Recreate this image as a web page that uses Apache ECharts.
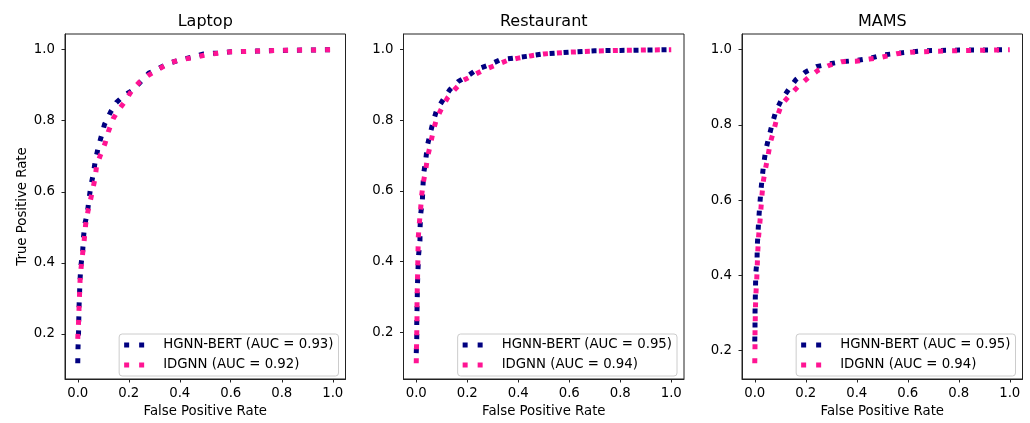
<!DOCTYPE html>
<html>
<head>
<meta charset="utf-8">
<script src="https://cdn.jsdelivr.net/npm/echarts@6/dist/echarts.min.js"></script>
<style>html,body{margin:0;padding:0;background:#fff}#c{width:1030px;height:423px}</style>
</head>
<body>
<div id="c"></div>
<script>
// ---- data ----
const panelTitles = ['Laptop', 'Restaurant', 'MAMS'];
const xTickValues = [0, 0.2, 0.4, 0.6, 0.8, 1.0];
const yTickValues = [0.2, 0.4, 0.6, 0.8, 1.0];
const hgnnNames = ['HGNN-BERT (AUC = 0.93)', 'HGNN-BERT (AUC = 0.95)', 'HGNN-BERT (AUC = 0.95)'];
const idgnnNames = ['IDGNN (AUC = 0.92)', 'IDGNN (AUC = 0.94)', 'IDGNN (AUC = 0.94)'];

const laptopHgnnFpr = [0, 0.001, 0.003, 0.004, 0.005, 0.007, 0.009, 0.012, 0.019, 0.022, 0.027, 0.038, 0.044, 0.051, 0.061, 0.069, 0.081, 0.093, 0.105, 0.129, 0.151, 0.181, 0.214, 0.246, 0.279, 0.318, 0.357, 0.402, 0.448, 0.493, 0.55, 0.6, 0.7, 0.8, 0.9, 1.0];
const laptopHgnnTpr = [0.117, 0.16, 0.2, 0.237, 0.275, 0.314, 0.352, 0.39, 0.428, 0.467, 0.506, 0.542, 0.578, 0.615, 0.65, 0.688, 0.727, 0.758, 0.79, 0.825, 0.851, 0.871, 0.885, 0.909, 0.934, 0.948, 0.962, 0.971, 0.979, 0.988, 0.991, 0.994, 0.996, 0.998, 0.999, 1.0];
const laptopIdgnnFpr = [0, 0.003, 0.005, 0.007, 0.009, 0.013, 0.018, 0.025, 0.031, 0.04, 0.048, 0.057, 0.068, 0.074, 0.09, 0.107, 0.12, 0.139, 0.161, 0.188, 0.21, 0.242, 0.275, 0.314, 0.353, 0.396, 0.448, 0.5, 0.55, 0.6, 0.7, 0.8, 0.9, 1.0];
const laptopIdgnnTpr = [0.186, 0.23, 0.27, 0.31, 0.349, 0.385, 0.419, 0.461, 0.508, 0.545, 0.57, 0.601, 0.638, 0.674, 0.705, 0.736, 0.769, 0.806, 0.831, 0.857, 0.883, 0.909, 0.927, 0.944, 0.96, 0.971, 0.977, 0.985, 0.99, 0.994, 0.996, 0.998, 0.999, 1.0];

const restHgnnFpr = [0, 0.002, 0.002, 0.003, 0.004, 0.005, 0.007, 0.009, 0.0145, 0.015, 0.017, 0.024, 0.026, 0.029, 0.037, 0.043, 0.054, 0.066, 0.08, 0.106, 0.132, 0.165, 0.204, 0.243, 0.286, 0.328, 0.38, 0.432, 0.497, 0.6, 0.7, 0.8, 0.9, 1.0];
const restHgnnTpr = [0.141, 0.183, 0.225, 0.263, 0.302, 0.34, 0.38, 0.417, 0.459, 0.495, 0.532, 0.573, 0.61, 0.649, 0.686, 0.726, 0.761, 0.795, 0.829, 0.859, 0.887, 0.91, 0.927, 0.946, 0.957, 0.971, 0.976, 0.981, 0.988, 0.993, 0.997, 0.998, 0.999, 1.0];
const restIdgnnFpr = [0, 0.001, 0.002, 0.003, 0.003, 0.004, 0.005, 0.006, 0.007, 0.008, 0.012, 0.017, 0.021, 0.027, 0.037, 0.045, 0.056, 0.067, 0.08, 0.1, 0.123, 0.152, 0.184, 0.223, 0.265, 0.308, 0.356, 0.4, 0.452, 0.5, 0.6, 0.7, 0.8, 0.9, 1.0];
const restIdgnnTpr = [0.112, 0.155, 0.197, 0.24, 0.28, 0.32, 0.352, 0.39, 0.43, 0.469, 0.508, 0.548, 0.586, 0.621, 0.66, 0.698, 0.733, 0.771, 0.805, 0.835, 0.864, 0.888, 0.913, 0.927, 0.943, 0.955, 0.969, 0.976, 0.983, 0.988, 0.993, 0.996, 0.998, 0.999, 1.0];

const mamsHgnnFpr = [0, 0.001, 0.001, 0.002, 0.003, 0.004, 0.009, 0.01, 0.013, 0.016, 0.02, 0.024, 0.029, 0.035, 0.043, 0.055, 0.068, 0.082, 0.105, 0.133, 0.161, 0.197, 0.242, 0.291, 0.34, 0.396, 0.451, 0.503, 0.595, 0.66, 0.8, 0.9, 1.0];
const mamsHgnnTpr = [0.224, 0.259, 0.297, 0.332, 0.369, 0.404, 0.442, 0.479, 0.516, 0.552, 0.589, 0.624, 0.659, 0.696, 0.732, 0.767, 0.801, 0.835, 0.867, 0.894, 0.92, 0.94, 0.955, 0.962, 0.968, 0.971, 0.977, 0.986, 0.993, 0.997, 0.999, 0.999, 1.0];
const mamsIdgnnFpr = [0, 0.001, 0.001, 0.002, 0.003, 0.005, 0.008, 0.01, 0.012, 0.015, 0.02, 0.024, 0.028, 0.033, 0.042, 0.052, 0.061, 0.075, 0.088, 0.105, 0.137, 0.17, 0.209, 0.248, 0.291, 0.34, 0.396, 0.45, 0.497, 0.556, 0.61, 0.71, 0.85, 1.0];
const mamsIdgnnTpr = [0.166, 0.21, 0.247, 0.284, 0.32, 0.356, 0.393, 0.429, 0.466, 0.503, 0.539, 0.575, 0.611, 0.648, 0.683, 0.718, 0.753, 0.786, 0.822, 0.854, 0.879, 0.902, 0.925, 0.945, 0.958, 0.968, 0.969, 0.975, 0.98, 0.989, 0.993, 0.996, 0.998, 1.0];

// ---- build ----
const panels = [
  {h: [laptopHgnnFpr, laptopHgnnTpr], d: [laptopIdgnnFpr, laptopIdgnnTpr]},
  {h: [restHgnnFpr, restHgnnTpr], d: [restIdgnnFpr, restIdgnnTpr]},
  {h: [mamsHgnnFpr, mamsHgnnTpr], d: [mamsIdgnnFpr, mamsIdgnnTpr]}
];
const NAVY = '#000080', PINK = '#FF1493';
const FONT = 'DejaVu Sans';
const gridLeft = [65, 403.5, 742];
const gridW = 280.5, gridTop = 34, gridBottom = 40;
const zip = (a, b) => a.map((v, i) => [v, b[i]]);
function extent(arrs) {
  let mn = Infinity, mx = -Infinity;
  arrs.forEach(a => a.forEach(v => { if (v < mn) mn = v; if (v > mx) mx = v; }));
  const m = (mx - mn) * 0.05;
  return [mn - m, mx + m];
}

const grid = [], xAxis = [], yAxis = [], series = [], legend = [], graphic = [];
panels.forEach((p, i) => {
  grid.push({left: gridLeft[i], width: gridW, top: gridTop, bottom: gridBottom,
    show: true, borderColor: '#222', borderWidth: 1, backgroundColor: 'transparent', containLabel: false});
  const xe = extent([p.h[0], p.d[0]]);
  const ye = extent([p.h[1], p.d[1]]);
  xAxis.push({type: 'value', gridIndex: i, min: xe[0], max: xe[1],
    name: 'False Positive Rate', nameLocation: 'middle', nameGap: 26,
    nameTextStyle: {fontFamily: FONT, fontSize: 13.3, color: '#000'},
    axisLine: {show: true, onZero: false, lineStyle: {color: '#222', width: 1}},
    axisTick: {show: true, length: 3.5, lineStyle: {color: '#222', width: 1}, customValues: xTickValues},
    axisLabel: {customValues: xTickValues, formatter: v => Number(v).toFixed(1), fontFamily: FONT, fontSize: 13.3, color: '#000', margin: 8},
    splitLine: {show: false}});
  yAxis.push({type: 'value', gridIndex: i, min: ye[0], max: ye[1],
    name: i === 0 ? 'True Positive Rate' : '', nameLocation: 'middle', nameGap: 36, nameRotate: 90,
    nameTextStyle: {fontFamily: FONT, fontSize: 13.3, color: '#000'},
    axisLine: {show: true, onZero: false, lineStyle: {color: '#222', width: 1}},
    axisTick: {show: true, length: 3.5, lineStyle: {color: '#222', width: 1}, customValues: yTickValues},
    axisLabel: {customValues: yTickValues, formatter: v => Number(v).toFixed(1), fontFamily: FONT, fontSize: 13.3, color: '#000', margin: 10},
    splitLine: {show: false}});
  const ls = c => ({color: c, width: 5, type: [5, 9], cap: 'butt', join: 'miter'});
  series.push({type: 'line', name: hgnnNames[i], xAxisIndex: i, yAxisIndex: i, data: zip(p.h[0], p.h[1]),
    showSymbol: false, symbol: 'none', color: NAVY, lineStyle: ls(NAVY), silent: true, animation: false});
  series.push({type: 'line', name: idgnnNames[i], xAxisIndex: i, yAxisIndex: i, data: zip(p.d[0], p.d[1]),
    showSymbol: false, symbol: 'none', color: PINK, lineStyle: ls(PINK), silent: true, animation: false});
  legend.push({orient: 'vertical', right: 1030 - (gridLeft[i] + gridW) + 7, bottom: gridBottom + 7,
    data: [{name: hgnnNames[i], itemStyle: {color: NAVY}}, {name: idgnnNames[i], itemStyle: {color: PINK}}],
    icon: 'path://M0,0h5v5h-5zM15,0h5v5h-5z', itemWidth: 20, itemHeight: 5, itemGap: 6,
    padding: [4, 5, 4, 5], backgroundColor: 'rgba(255,255,255,0.8)', borderColor: '#cccccc', borderWidth: 1, borderRadius: 3,
    textStyle: {fontFamily: FONT, fontSize: 13.3, color: '#000', lineHeight: 14, padding: [0, 0, 0, 14]},
    selectedMode: false});
  graphic.push({type: 'text', x: gridLeft[i] + gridW / 2, y: 22,
    style: {text: panelTitles[i], fontFamily: FONT, fontSize: 16, fill: '#000', textAlign: 'center', textVerticalAlign: 'middle'}});
});

const chart = echarts.init(document.getElementById('c'), null, {renderer: 'canvas'});
chart.setOption({animation: false, backgroundColor: '#fff', textStyle: {fontFamily: FONT},
  grid, xAxis, yAxis, series, legend, graphic});
</script>
</body>
</html>
